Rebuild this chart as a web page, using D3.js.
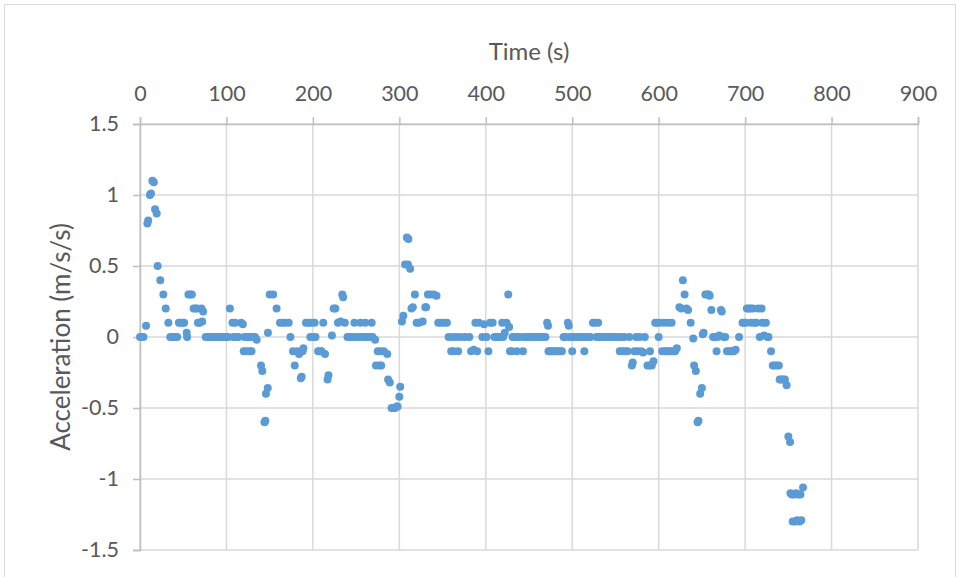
<!DOCTYPE html>
<html>
<head>
<meta charset="utf-8">
<script src="https://cdn.jsdelivr.net/npm/d3@7"></script>
<style>
  html, body { margin: 0; padding: 0; background: #ffffff; }
  svg { display: block; }
  text { font-family: Lato, "Open Sans", sans-serif; fill: #595959; }
</style>
</head>
<body>
<svg id="chart" width="956" height="577"></svg>
<script>
// ---- data (time in s, acceleration in m/s/s) ----
const time = [
  0,2,4,7,8.5,9.5,11.5,12.7,14.3,16,17.4,19.3,20.4,23.5,27,29.7,32.8,35,37,39,41,43,45,47,49,51,54,54.5,56,58,60,62,64,66,67,69,72,71,73,
  76,78,80,82,84,86,88,90,92,94,96,98,100,102,
  104,107,110,108,112,114,117,119,120,121,123,124,127,129,126,128,131,133,135,140,141.5,144,145,145.7,147.8,148,150,154,158,162,165,168,172,174,177,179,182,184,186,187,188,189,192,195,197,198,200,202,203,206,208,210,212,214,217,218,
  222,224,226,229,232,234,235,237,240,243,246,248,250,253,255,257,260,260.5,263,266,268,269,272,273,275,277,278,279,282,286,287,289,291,293,295,297,298,300,301,303,304.6,306.7,308.7,310,310.5,312.5,314,315.6,318,320,323,327,330,331,333,336,340,343,345,348,352,355,357,360,362,363,366,368,371,376,381,383,386,388,390,392,396,
  398,401,403,405,408,410,413,416,419,420,422,424,426,427,428,430,431,434,436,437,440,443,445,448,450,452,455,458,461,464,467,469,471,472,472.5,474,476,478,480,482,484,486,488,490,492,495,496,497,500,500.5,503,506,509,511,514,515,518,521,524,526,528,530,531,534,537,540,543,546,549,552,555,556,558,560,561,564,566,569,570,572,574,576,578,580,582,584,587,589,590,592,594,596,598,600,601,604,606,607,609,611,612,614,615,617,619,621,
  624,626,628,630,632,634,637,640,641,643,645,646,648,650,651,652,654,656,658,659,661,663,665,667,668,670,672,673,675,677,679,681,683,685,687,689,693,697,699,701,702,704,706,707,709,711,713,715,717,719,720,722,724,726,727,730,732,734,737,739,740,742,744,746,748,750,752,752.5,754,755,756,758,759,760,761,763,764,765,767
];
const accel = [
  0,0,0,0.08,0.8,0.82,1.0,1.01,1.1,1.09,0.9,0.87,0.5,0.4,0.3,0.2,0.1,0,0,0,0,0,0.1,0.1,0.1,0.1,0.03,0,0.3,0.3,0.3,0.2,0.2,0.2,0.1,0.1,0.11,0.2,0.18,
  0,0,0,0,0,0,0,0,0,0,0,0,0,0,
  0.2,0.1,0.1,0,0,0,0.1,0.09,-0.1,0,-0.1,0,-0.1,-0.1,0,0,0,0,-0.02,-0.2,-0.24,-0.6,-0.59,-0.4,-0.36,0.03,0.3,0.3,0.2,0.1,0.1,0.1,0.1,0,-0.1,-0.2,-0.1,-0.12,-0.29,-0.28,-0.1,-0.08,0.1,0.1,0,0.1,0,0.1,0,-0.1,-0.1,-0.1,0.1,-0.12,-0.3,-0.27,
  0.01,0.2,0.2,0.1,0.11,0.3,0.28,0.1,0,0,0,0.1,0,0,0.1,0,0,0.1,0,0,0.1,0,-0.02,-0.2,-0.1,-0.2,-0.1,-0.2,-0.1,-0.12,-0.3,-0.32,-0.5,-0.5,-0.5,-0.49,-0.49,-0.42,-0.35,0.11,0.15,0.51,0.7,0.51,0.69,0.48,0.2,0.21,0.3,0.1,0.1,0.11,0.21,0.21,0.3,0.3,0.3,0.29,0.1,0.1,0.1,0.1,0,-0.1,0,-0.1,0,-0.1,0,0,0,-0.1,-0.09,0.1,-0.1,0.1,0,
  0.09,0,-0.1,0.1,0.1,0,0,0,0.1,0,0.03,0.1,0.3,0.07,-0.1,-0.1,0,0,-0.1,0,0,-0.1,0,0,0,0,0,0,0,0,0,0,0.1,0.08,-0.1,-0.1,-0.1,-0.1,-0.1,-0.1,-0.1,-0.1,-0.1,0,0,0.1,0.08,0,-0.1,0,0,0,0,0,-0.1,0,0,0,0.1,0.1,0,0.1,0,0,0,0,0,0,0,0,-0.1,0,-0.1,0,-0.1,-0.1,0,-0.2,-0.18,-0.1,0,-0.1,0,-0.1,-0.11,0,-0.2,-0.2,-0.1,-0.2,-0.17,0.1,0.1,0,0.1,-0.1,0.1,-0.1,-0.1,0.1,-0.1,-0.1,0.1,-0.1,-0.1,-0.08,
  0.21,0.2,0.4,0.3,0.2,0.19,0.1,-0.01,-0.2,-0.24,-0.6,-0.59,-0.4,-0.36,0.02,0.03,0.3,0.3,0.3,0.29,0.19,0,0,-0.1,0,0.01,0.19,0.18,0,0,-0.1,-0.1,-0.1,-0.1,-0.1,-0.09,0,0.1,0.1,0.1,0.2,0.2,0.2,0.1,0.2,0.1,0.1,0.2,0,0.2,0.1,0.01,0.1,0,0,-0.1,-0.2,-0.2,-0.2,-0.2,-0.3,-0.3,-0.3,-0.3,-0.34,-0.7,-0.74,-1.1,-1.11,-1.3,-1.11,-1.3,-1.1,-1.29,-1.11,-1.3,-1.11,-1.29,-1.06
];
const xTicks = [0,100,200,300,400,500,600,700,800,900];
const yTicks = [-1.5,-1,-0.5,0,0.5,1,1.5];
const xTitle = "Time (s)";
const yTitle = "Acceleration (m/s/s)";

// ---- layout ----
const svg = d3.select("#chart");
const W = 956, H = 577;
const pLeft = 140, pRight = 918, pTop = 124, pBottom = 550;

// chart area border
svg.append("rect")
  .attr("x", 4.5).attr("y", 4.5)
  .attr("width", W - 5).attr("height", H)
  .attr("fill", "#ffffff").attr("stroke", "#d9d9d9").attr("stroke-width", 1);

const x = d3.scaleLinear().domain([0, 900]).range([pLeft, pRight]);
const y = d3.scaleLinear().domain([-1.5, 1.5]).range([pBottom, pTop]);

// gridlines
const grid = svg.append("g");
grid.selectAll("line.v").data(xTicks).join("line").attr("class", "v")
  .attr("x1", d => x(d)).attr("x2", d => x(d))
  .attr("y1", pTop).attr("y2", pBottom)
  .attr("stroke", "#d9d9d9").attr("stroke-width", 1.5);
grid.selectAll("line.h").data(yTicks).join("line").attr("class", "h")
  .attr("x1", pLeft).attr("x2", pRight)
  .attr("y1", d => y(d)).attr("y2", d => y(d))
  .attr("stroke", "#d9d9d9").attr("stroke-width", 1.5);

const fmt = d => String(d);

// x axis on top
const xAxis = svg.append("g")
  .attr("transform", `translate(0,${pTop})`)
  .call(d3.axisTop(x).tickValues(xTicks).tickFormat(fmt).tickSize(7).tickPadding(16));
// y axis on left
const yAxis = svg.append("g")
  .attr("transform", `translate(${pLeft},0)`)
  .call(d3.axisLeft(y).tickValues(yTicks).tickFormat(fmt).tickSize(7).tickPadding(14));

[xAxis, yAxis].forEach(a => {
  a.select(".domain").attr("stroke", "#bfbfbf").attr("stroke-width", 1.5);
  a.selectAll(".tick line").attr("stroke", "#bfbfbf").attr("stroke-width", 1.5);
  a.selectAll(".tick text")
    .style("font-family", "Lato, 'Open Sans', sans-serif")
    .style("font-size", "21.5px")
    .attr("fill", "#595959");
});

// titles
svg.append("text")
  .attr("x", (pLeft + pRight) / 2).attr("y", 60)
  .attr("text-anchor", "middle")
  .style("font-size", "24px")
  .text(xTitle);
svg.append("text")
  .attr("transform", `translate(70,${(pTop + pBottom) / 2}) rotate(-90)`)
  .attr("text-anchor", "middle")
  .style("font-size", "26px")
  .text(yTitle);

// points
const pts = time.map((t, i) => ({ t, a: accel[i] }));
svg.append("g").selectAll("circle").data(pts).join("circle")
  .attr("cx", d => x(d.t)).attr("cy", d => y(d.a))
  .attr("r", 4)
  .attr("fill", "#5b9bd5");
</script>
</body>
</html>
